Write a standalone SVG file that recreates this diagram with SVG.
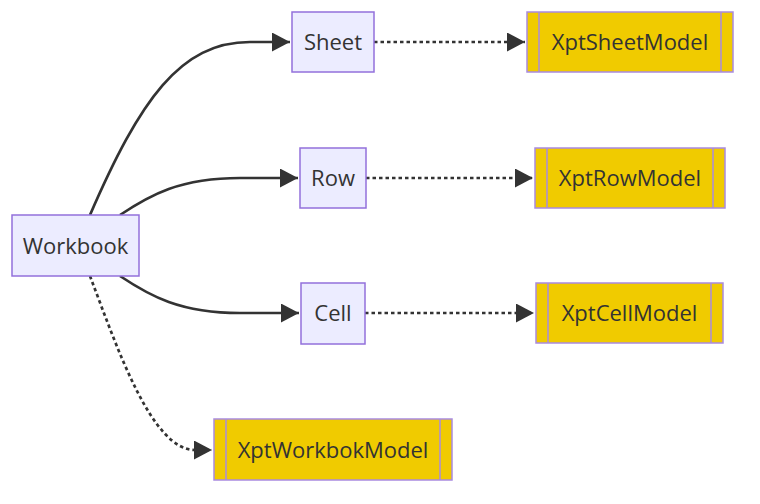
<svg xmlns="http://www.w3.org/2000/svg" width="760" height="504" viewBox="0 0 760 504">
<style>
.n rect{fill:#ECECFF;stroke:#9370DB;stroke-width:1.5}
.s rect{fill:#F0CB00;stroke:#A98BE0;stroke-width:1.5}
.s line{stroke:#A98BE0;stroke-width:1.5}
text{font-family:"Open Sans","Liberation Sans",sans-serif;font-size:22px;fill:#333;text-anchor:middle}
.e path{fill:none;stroke:#333;stroke-width:2.7}
.e .d{stroke-dasharray:3.5 3}
</style>
<defs>
<marker id="ah" markerUnits="userSpaceOnUse" markerWidth="19" markerHeight="20" refX="18" refY="9.5" orient="auto">
<path d="M0,0 L18,9.5 L0,19 z" fill="#333"/>
</marker>
</defs>
<rect width="760" height="504" fill="#fff"/>
<g class="e">
<path d="M90,215 C140,100 180,42 250,42 L290,42" marker-end="url(#ah)"/>
<path d="M120,215 C150,195 180,178 240,178 L298,178" marker-end="url(#ah)"/>
<path d="M120,276 C150,296 180,313 240,313 L299,313" marker-end="url(#ah)"/>
<path class="d" d="M90,276 C118,350 152,450 195,450 L212,450" marker-end="url(#ah)"/>
<path class="d" d="M374,42 L525,42" marker-end="url(#ah)"/>
<path class="d" d="M366,178 L533,178" marker-end="url(#ah)"/>
<path class="d" d="M365,313 L534,313" marker-end="url(#ah)"/>
</g>
<g id="Workbook" class="n"><rect x="12" y="215" width="127" height="61"/><text x="75.5" y="253.5">Workbook</text></g>
<g id="Sheet" class="n"><rect x="292" y="12" width="82" height="60"/><text x="333" y="49.5">Sheet</text></g>
<g id="Row" class="n"><rect x="300" y="148" width="66" height="60"/><text x="333" y="185.5">Row</text></g>
<g id="Cell" class="n"><rect x="301" y="283" width="64" height="61"/><text x="333" y="321">Cell</text></g>
<g id="XptSheetModel" class="s"><rect x="527" y="12" width="206" height="60"/><line x1="539" y1="12" x2="539" y2="72"/><line x1="721" y1="12" x2="721" y2="72"/><text x="630" y="49.5">XptSheetModel</text></g>
<g id="XptRowModel" class="s"><rect x="535" y="148" width="190" height="60"/><line x1="547" y1="148" x2="547" y2="208"/><line x1="713" y1="148" x2="713" y2="208"/><text x="630" y="185.5">XptRowModel</text></g>
<g id="XptCellModel" class="s"><rect x="536" y="283" width="187" height="60"/><line x1="548" y1="283" x2="548" y2="343"/><line x1="711" y1="283" x2="711" y2="343"/><text x="629.5" y="321">XptCellModel</text></g>
<g id="XptWorkbokModel" class="s"><rect x="214" y="419" width="238" height="61"/><line x1="226" y1="419" x2="226" y2="480"/><line x1="440" y1="419" x2="440" y2="480"/><text x="333" y="457.5">XptWorkbokModel</text></g>
</svg>
